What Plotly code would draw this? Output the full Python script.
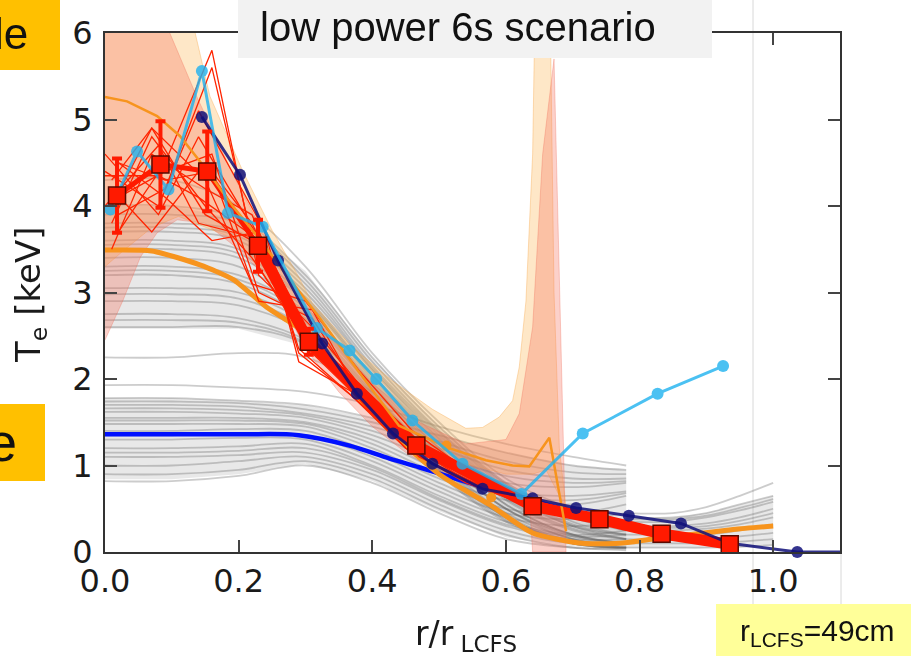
import plotly.graph_objects as go

# ---------------- data ----------------
GREY_X = [0.0, 0.1, 0.2, 0.3, 0.4, 0.5, 0.6, 0.7, 0.78]
GREY_UPPER = [
    [4.30, 4.30, 4.00, 3.30, 2.30, 1.50, 0.85, 0.50, 0.35],
    [4.00, 4.00, 3.85, 3.20, 2.25, 1.45, 0.80, 0.45, 0.30],
    [3.90, 3.90, 3.80, 3.15, 2.20, 1.40, 0.78, 0.40, 0.25],
    [3.80, 3.80, 3.70, 3.10, 2.15, 1.38, 0.75, 0.35, 0.20],
    [3.75, 3.75, 3.65, 3.05, 2.12, 1.35, 0.72, 0.32, 0.20],
    [3.70, 3.70, 3.60, 3.00, 2.10, 1.32, 0.70, 0.30, 0.20],
    [3.60, 3.60, 3.50, 2.95, 2.05, 1.30, 0.65, 0.30, 0.15],
    [3.55, 3.55, 3.45, 2.92, 2.03, 1.27, 0.62, 0.27, 0.15],
    [3.50, 3.50, 3.40, 2.90, 2.00, 1.25, 0.60, 0.25, 0.15],
    [3.40, 3.40, 3.30, 2.82, 1.97, 1.20, 0.55, 0.20, 0.10],
    [3.30, 3.30, 3.20, 2.78, 1.94, 1.15, 0.50, 0.20, 0.10],
    [3.25, 3.25, 3.15, 2.74, 1.92, 1.12, 0.50, 0.18, 0.10],
    [3.20, 3.20, 3.10, 2.70, 1.90, 1.10, 0.50, 0.15, 0.10],
    [3.05, 3.05, 3.00, 2.65, 1.86, 1.05, 0.45, 0.15, 0.05],
    [2.98, 2.98, 2.93, 2.60, 1.84, 1.03, 0.42, 0.12, 0.05],
    [2.90, 2.90, 2.85, 2.55, 1.82, 1.00, 0.40, 0.10, 0.05],
    [2.75, 2.75, 2.70, 2.45, 1.78, 0.95, 0.40, 0.10, 0.05],
    [2.68, 2.68, 2.65, 2.42, 1.75, 0.92, 0.37, 0.10, 0.05],
    [2.60, 2.60, 2.60, 2.40, 1.72, 0.90, 0.35, 0.10, 0.05],
    [2.25, 2.25, 2.30, 2.25, 1.85, 1.20, 0.55, 0.20, 0.10],
]
GREY_LOWER = [
    [1.93, 1.93, 1.90, 1.85, 1.70, 1.45, 1.25, 1.10, 1.00],
    [1.78, 1.78, 1.75, 1.70, 1.55, 1.35, 1.15, 1.00, 0.95],
    [1.74, 1.74, 1.72, 1.65, 1.50, 1.28, 1.05, 0.92, 0.90],
    [1.70, 1.70, 1.68, 1.60, 1.45, 1.20, 0.95, 0.85, 0.85],
    [1.66, 1.66, 1.64, 1.58, 1.40, 1.12, 0.88, 0.80, 0.82],
    [1.62, 1.62, 1.60, 1.55, 1.35, 1.05, 0.80, 0.75, 0.80],
    [1.55, 1.55, 1.55, 1.50, 1.30, 0.95, 0.70, 0.65, 0.70],
    [1.52, 1.52, 1.52, 1.48, 1.25, 0.90, 0.65, 0.60, 0.68],
    [1.48, 1.48, 1.48, 1.45, 1.20, 0.85, 0.60, 0.55, 0.65],
    [1.40, 1.40, 1.42, 1.40, 1.15, 0.80, 0.50, 0.45, 0.55],
    [1.35, 1.35, 1.37, 1.35, 1.10, 0.75, 0.45, 0.38, 0.45],
    [1.30, 1.30, 1.32, 1.30, 1.05, 0.70, 0.40, 0.30, 0.35],
    [1.20, 1.20, 1.22, 1.25, 1.00, 0.65, 0.35, 0.20, 0.25],
    [1.15, 1.15, 1.17, 1.20, 0.98, 0.62, 0.32, 0.18, 0.20],
    [1.10, 1.10, 1.12, 1.15, 0.95, 0.60, 0.30, 0.15, 0.15],
    [1.00, 1.00, 1.05, 1.10, 0.90, 0.55, 0.25, 0.10, 0.10],
    [0.90, 0.90, 0.95, 1.05, 0.85, 0.50, 0.20, 0.05, 0.05],
    [0.82, 0.82, 0.88, 1.00, 0.80, 0.45, 0.15, 0.05, 0.02],
]
TAIL_X = [0.78, 0.85, 0.9, 0.95, 1.0]
GREY_TAIL = [
    [0.45, 0.45, 0.52, 0.65, 0.80],
    [0.40, 0.40, 0.45, 0.55, 0.65],
    [0.38, 0.38, 0.42, 0.51, 0.61],
    [0.35, 0.35, 0.40, 0.48, 0.58],
    [0.30, 0.30, 0.33, 0.40, 0.50],
    [0.28, 0.28, 0.30, 0.36, 0.45],
    [0.25, 0.25, 0.27, 0.32, 0.40],
    [0.20, 0.20, 0.20, 0.25, 0.32],
    [0.15, 0.14, 0.15, 0.18, 0.22],
    [0.10, 0.10, 0.10, 0.12, 0.15],
    [0.05, 0.05, 0.05, 0.06, 0.08],
]
# envelopes of the grey bundles (shading under the lines)
ENV_UP_TOP = [4.00, 4.00, 3.85, 3.25, 2.25, 1.45, 0.80, 0.42, 0.30]
ENV_UP_BOT = [2.58, 2.58, 2.58, 2.38, 1.72, 0.90, 0.35, 0.10, 0.05]
ENV_LO_TOP = [1.78, 1.78, 1.75, 1.70, 1.55, 1.35, 1.15, 1.00, 0.95]
ENV_LO_BOT = [0.84, 0.84, 0.90, 1.02, 0.82, 0.47, 0.17, 0.05, 0.02]
ENV_TAIL_TOP = [0.40, 0.40, 0.45, 0.55, 0.65]
ENV_TAIL_BOT = [0.05, 0.05, 0.05, 0.06, 0.08]

BEIGE_UP_X = [0.0, 0.10, 0.135, 0.157, 0.207, 0.25, 0.29, 0.31, 0.37, 0.43, 0.49, 0.54, 0.565, 0.59, 0.61, 0.62, 0.63, 0.64, 0.645, 0.665, 0.672, 0.68, 0.69]
BEIGE_UP_Y = [7.0, 7.0, 6.0, 5.27, 4.39, 3.72, 3.18, 2.88, 2.37, 1.98, 1.65, 1.43, 1.44, 1.56, 1.75, 2.14, 2.9, 4.6, 7.0, 7.0, 3.0, 1.2, 0.5]
BEIGE_LO_X = [0.0, 0.03, 0.07, 0.11, 0.2, 0.3, 0.4, 0.5, 0.6, 0.64, 0.66, 0.69]
BEIGE_LO_Y = [3.3, 3.5, 3.75, 3.88, 3.6, 2.5, 1.6, 1.1, 0.9, 0.9, 0.95, 0.5]

SALMON_UP_X = [0.0, 0.097, 0.137, 0.19, 0.235, 0.28, 0.33, 0.4, 0.47, 0.54, 0.6, 0.62, 0.64, 0.655, 0.672, 0.69]
SALMON_UP_Y = [7.0, 6.0, 5.27, 4.39, 3.72, 3.1, 2.55, 1.95, 1.5, 1.25, 1.3, 1.6, 2.6, 4.6, 5.7, 0.0]
SALMON_LO_X = [0.0, 0.027, 0.053, 0.078, 0.108, 0.15, 0.2, 0.25, 0.3, 0.35, 0.4, 0.45, 0.5, 0.55, 0.6, 0.635, 0.64, 0.69]
SALMON_LO_Y = [2.45, 2.91, 3.41, 3.69, 3.84, 3.8, 3.5, 3.1, 2.35, 1.85, 1.45, 1.15, 0.92, 0.78, 0.68, 0.6, 0.0, 0.0]

ORANGE_THIN_X = [0.0, 0.033, 0.078, 0.112, 0.152, 0.192, 0.232, 0.266, 0.32, 0.38, 0.44, 0.515, 0.57, 0.61, 0.635, 0.665, 0.69]
ORANGE_THIN_Y = [5.26, 5.21, 5.04, 4.81, 4.42, 3.99, 3.61, 3.26, 2.72, 2.08, 1.46, 1.2, 1.06, 1.0, 0.99, 1.32, 0.24]
ORANGE_THICK_X = [0.0, 0.07, 0.142, 0.192, 0.242, 0.272, 0.3, 0.35, 0.42, 0.5, 0.575, 0.64, 0.714, 0.77, 0.82, 0.94, 1.0]
ORANGE_THICK_Y = [3.49, 3.48, 3.32, 3.15, 2.83, 2.68, 2.53, 2.05, 1.45, 0.9, 0.55, 0.22, 0.1, 0.1, 0.15, 0.26, 0.3]
ORANGE_DOTS_X = [0.511, 0.578]
ORANGE_DOTS_Y = [1.23, 0.63]

BLUE_X = [0.0, 0.1, 0.2, 0.29, 0.366, 0.426, 0.47, 0.52, 0.57, 0.62, 0.67, 0.72, 0.8, 0.87, 0.93]
BLUE_Y = [1.36, 1.36, 1.36, 1.35, 1.23, 1.08, 0.98, 0.86, 0.74, 0.63, 0.53, 0.44, 0.3, 0.17, 0.07]

RX_A = [0.01, 0.07, 0.15, 0.22, 0.30, 0.38, 0.46, 0.55, 0.64, 0.74, 0.83, 0.93]
RX_B = [0.02, 0.09, 0.16, 0.23, 0.31, 0.39, 0.47, 0.56, 0.65, 0.75, 0.84, 0.94]
RX_C = [0.00, 0.08, 0.14, 0.24, 0.29, 0.37, 0.45, 0.54, 0.63, 0.73, 0.82, 0.92]
RED_THIN = [
    (RX_A, [4.30, 4.90, 3.90, 3.60, 2.50, 1.80, 1.25, 0.85, 0.55, 0.40, 0.22, 0.08]),
    (RX_B, [3.90, 4.20, 5.60, 3.30, 2.30, 1.70, 1.20, 0.80, 0.50, 0.38, 0.20, 0.10]),
    (RX_C, [4.60, 3.90, 4.80, 3.50, 2.60, 2.00, 1.35, 0.90, 0.58, 0.42, 0.25, 0.10]),
    (RX_A, [3.50, 4.60, 4.20, 3.90, 2.40, 1.90, 1.30, 0.85, 0.52, 0.36, 0.20, 0.08]),
    (RX_B, [4.10, 4.40, 4.60, 3.00, 2.70, 1.75, 1.15, 0.80, 0.50, 0.40, 0.24, 0.10]),
    (RX_C, [4.40, 4.00, 5.10, 3.70, 2.20, 1.85, 1.20, 0.82, 0.56, 0.39, 0.21, 0.09]),
    (RX_A, [3.80, 4.80, 4.00, 3.40, 2.50, 1.95, 1.30, 0.88, 0.54, 0.37, 0.23, 0.12]),
    (RX_B, [4.50, 4.30, 4.40, 2.90, 2.80, 1.70, 1.10, 0.78, 0.50, 0.40, 0.22, 0.10]),
    (RX_C, [4.00, 4.70, 3.80, 3.60, 2.30, 1.80, 1.25, 0.84, 0.53, 0.41, 0.20, 0.08]),
    (RX_A, [4.20, 3.70, 4.50, 3.80, 2.45, 1.90, 1.28, 0.86, 0.57, 0.38, 0.24, 0.11]),
    (RX_B, [3.70, 4.50, 5.80, 3.20, 2.60, 1.85, 1.22, 0.83, 0.52, 0.36, 0.20, 0.09]),
    (RX_C, [4.35, 4.35, 4.10, 3.55, 2.35, 1.80, 1.20, 0.80, 0.55, 0.39, 0.22, 0.10]),
    (RX_A, [4.00, 4.90, 4.30, 3.10, 2.90, 2.10, 1.40, 0.90, 0.60, 0.40, 0.23, 0.10]),
    (RX_B, [4.50, 4.10, 3.60, 3.70, 2.40, 1.75, 1.18, 0.81, 0.51, 0.37, 0.21, 0.09]),
]

SQ_X = [0.018, 0.083, 0.153, 0.229, 0.305, 0.466, 0.64, 0.74, 0.833, 0.935]
SQ_Y = [4.12, 4.48, 4.40, 3.54, 2.43, 1.23, 0.53, 0.38, 0.21, 0.09]
SQ_ERR = [0.43, 0.50, 0.46, 0.30, 0.15, 0.08, 0.05, 0.05, 0.05, 0.05]

NAVY_X = [0.145, 0.202, 0.259, 0.325, 0.377, 0.431, 0.49, 0.565, 0.64, 0.705, 0.784, 0.862, 0.935, 1.036]
NAVY_Y = [5.03, 4.36, 3.37, 2.41, 1.83, 1.37, 1.02, 0.73, 0.62, 0.51, 0.42, 0.33, 0.10, 0.0]

CYAN_X = [0.008, 0.048, 0.095, 0.145, 0.184, 0.236, 0.317, 0.366, 0.406, 0.46, 0.535, 0.623, 0.715, 0.827, 0.925]
CYAN_Y = [3.96, 4.63, 4.19, 5.56, 3.92, 3.76, 2.59, 2.33, 2.0, 1.52, 1.02, 0.67, 1.37, 1.83, 2.15]

X_TICKS = [0.0, 0.2, 0.4, 0.6, 0.8, 1.0]
X_TICK_TEXT = ["0.0", "0.2", "0.4", "0.6", "0.8", "1.0"]
Y_TICKS = [0, 1, 2, 3, 4, 5, 6]

# ---------------- figure ----------------
W, H = 911, 656
ML, MR, MT, MB = 105, 71, 33, 104
PW, PH = W - ML - MR, H - MT - MB


def PX(p):
    return (p - ML) / PW


def PY(p):
    return (H - MB - p) / PH


fig = go.Figure()


def band(xu, yu, xl, yl, fill, edge):
    fig.add_trace(go.Scatter(x=list(xu) + list(xl)[::-1], y=list(yu) + list(yl)[::-1], mode="lines", fill="toself",
                             fillcolor=fill, line=dict(color=edge, width=1 if edge else 0), hoverinfo="skip"))


genv = "rgba(150,150,150,0.22)"
band(GREY_X, ENV_UP_TOP, GREY_X, ENV_UP_BOT, genv, None)
band(GREY_X, ENV_LO_TOP, GREY_X, ENV_LO_BOT, genv, None)
band(TAIL_X, ENV_TAIL_TOP, TAIL_X, ENV_TAIL_BOT, genv, None)

grey = "rgba(100,100,100,0.33)"
for ys in GREY_UPPER + GREY_LOWER:
    fig.add_trace(go.Scatter(x=GREY_X, y=ys, mode="lines", line=dict(color=grey, width=1.8, shape="spline"), hoverinfo="skip"))
for ys in GREY_TAIL:
    fig.add_trace(go.Scatter(x=TAIL_X, y=ys, mode="lines", line=dict(color=grey, width=1.8, shape="spline"), hoverinfo="skip"))

# bands
band(BEIGE_UP_X, BEIGE_UP_Y, BEIGE_LO_X, BEIGE_LO_Y, "rgba(251,176,70,0.30)", "rgba(245,160,60,0.35)")
band(SALMON_UP_X, SALMON_UP_Y, SALMON_LO_X, SALMON_LO_Y, "rgba(245,115,95,0.33)", "rgba(240,100,80,0.3)")

# blue line
fig.add_trace(go.Scatter(x=BLUE_X, y=BLUE_Y, mode="lines", line=dict(color="#0010ff", width=4.5, shape="spline"), hoverinfo="skip"))

# thick orange (below the red bundle)
fig.add_trace(go.Scatter(x=ORANGE_THICK_X, y=ORANGE_THICK_Y, mode="lines", line=dict(color="#f7941d", width=5, shape="spline", smoothing=0.6), hoverinfo="skip"))

# red thin lines
for xs, ys in RED_THIN:
    fig.add_trace(go.Scatter(x=xs, y=ys, mode="lines", line=dict(color="#ff2400", width=1.3), hoverinfo="skip"))

# red main line: thinner in the core, thick band further out
fig.add_trace(go.Scatter(x=SQ_X[:4], y=SQ_Y[:4], mode="lines", line=dict(color="#ff1a00", width=5), hoverinfo="skip"))
fig.add_trace(go.Scatter(x=SQ_X[3:], y=SQ_Y[3:], mode="lines", line=dict(color="#ff1a00", width=11), hoverinfo="skip"))

# thin orange line and dots
fig.add_trace(go.Scatter(x=ORANGE_THIN_X, y=ORANGE_THIN_Y, mode="lines", line=dict(color="#f7941d", width=2.5), hoverinfo="skip"))
fig.add_trace(go.Scatter(x=ORANGE_DOTS_X, y=ORANGE_DOTS_Y, mode="markers", marker=dict(color="#f7941d", size=10), hoverinfo="skip"))

# navy series
fig.add_trace(go.Scatter(x=NAVY_X + [1.1], y=NAVY_Y + [0.0], mode="lines", line=dict(color="#10107a", width=3), opacity=0.85, hoverinfo="skip"))
fig.add_trace(go.Scatter(x=NAVY_X, y=NAVY_Y, mode="markers", marker=dict(color="#10107a", size=12), opacity=0.85, hoverinfo="skip", cliponaxis=False))

# cyan series
fig.add_trace(go.Scatter(x=CYAN_X, y=CYAN_Y, mode="lines+markers", line=dict(color="#1eb2ef", width=3),
                         marker=dict(color="#1eb2ef", size=12), opacity=0.8, hoverinfo="skip"))

# squares with error bars
fig.add_trace(go.Scatter(x=SQ_X, y=SQ_Y, mode="markers",
                         marker=dict(symbol="square", size=17, color="#ff1a00", line=dict(color="#5a0a00", width=1.5)),
                         error_y=dict(type="data", array=SQ_ERR, color="#ff1a00", thickness=4, width=5),
                         hoverinfo="skip"))

axis_font = dict(family="DejaVu Sans", size=32, color="#1a1a1a")
fig.update_layout(
    width=W, height=H,
    margin=dict(l=ML, r=MR, t=MT, b=MB),
    paper_bgcolor="white", plot_bgcolor="white",
    showlegend=False, hovermode=False,
    xaxis=dict(range=[0, 1.1], tickvals=X_TICKS, ticktext=X_TICK_TEXT, ticks="inside", ticklen=12, tickwidth=1.5,
               tickcolor="#444", showline=True, linecolor="#333", linewidth=2, mirror="ticks", showgrid=False,
               zeroline=False, tickfont=axis_font, ticklabelstandoff=0),
    yaxis=dict(range=[0, 6], tickvals=Y_TICKS, ticks="inside", ticklen=12, tickwidth=1.5, tickcolor="#444",
               showline=True, linecolor="#333", linewidth=2, mirror="ticks", showgrid=False, zeroline=False,
               tickfont=axis_font, ticklabelstandoff=4),
)

shapes = []
shapes.append(dict(type="line", xref="paper", yref="paper", x0=PX(753), x1=PX(753), y0=PY(0), y1=PY(604),
                   line=dict(color="#d8d8d8", width=1), layer="below"))
shapes.append(dict(type="line", xref="paper", yref="paper", x0=PX(841), x1=PX(841), y0=PY(552), y1=PY(604),
                   line=dict(color="#d8d8d8", width=1), layer="below"))
shapes.append(dict(type="rect", xref="paper", yref="paper", x0=PX(238), x1=PX(712), y0=PY(0), y1=PY(58),
                   fillcolor="#f2f2f2", line=dict(width=0), layer="above"))
shapes.append(dict(type="rect", xref="paper", yref="paper", x0=PX(0), x1=PX(60), y0=PY(0), y1=PY(70),
                   fillcolor="#ffc000", line=dict(width=0), layer="above"))
shapes.append(dict(type="rect", xref="paper", yref="paper", x0=PX(0), x1=PX(45), y0=PY(404), y1=PY(481),
                   fillcolor="#ffc000", line=dict(width=0), layer="above"))
shapes.append(dict(type="rect", xref="paper", yref="paper", x0=PX(716), x1=PX(911), y0=PY(604), y1=PY(656),
                   fillcolor="#ffff99", line=dict(width=0), layer="above"))
fig.update_layout(shapes=shapes)

slide_font = "Liberation Sans, Arial, sans-serif"
ann = []
ann.append(dict(text="low power 6s scenario", xref="paper", yref="paper", x=PX(258), y=PY(27), xanchor="left",
                yanchor="middle", showarrow=False, font=dict(family=slide_font, size=40, color="#111")))
ann.append(dict(text="le", xref="paper", yref="paper", x=PX(30), y=PY(33), xanchor="right", yanchor="middle",
                showarrow=False, font=dict(family=slide_font, size=44, color="#111")))
ann.append(dict(text="e", xref="paper", yref="paper", x=PX(19), y=PY(442), xanchor="right", yanchor="middle",
                showarrow=False, font=dict(family=slide_font, size=54, color="#111")))
ann.append(dict(text="r<sub>LCFS</sub>=49cm", xref="paper", yref="paper", x=PX(738), y=PY(632), xanchor="left",
                yanchor="middle", showarrow=False, font=dict(family=slide_font, size=30, color="#111")))
ann.append(dict(text="r/r<sub> LCFS</sub>", xref="paper", yref="paper", x=PX(466), y=PY(635), xanchor="center",
                yanchor="middle", showarrow=False, font=dict(family="DejaVu Sans", size=33, color="#1a1a1a")))
ann.append(dict(text="T<sub>e</sub> [keV]", xref="paper", yref="paper", x=PX(31), y=PY(295), xanchor="center",
                yanchor="middle", textangle=-90, showarrow=False, font=dict(family="DejaVu Sans", size=34, color="#1a1a1a")))
fig.update_layout(annotations=ann)

fig.write_html("out.html", config={"displayModeBar": False},
               post_script="document.body.style.margin='0px';document.body.style.overflow='hidden';")
